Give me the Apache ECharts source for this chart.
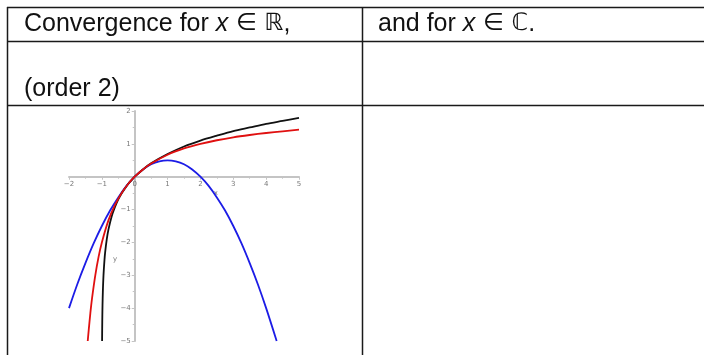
<!DOCTYPE html>
<html>
<head>
<meta charset="utf-8">
<script src="https://cdn.jsdelivr.net/npm/echarts@6/dist/echarts.min.js"></script>
<style>
  html, body { margin: 0; padding: 0; background: #fff; }
  #chart { width: 704px; height: 355px; }
</style>
</head>
<body>
<div id="chart"></div>
<script>
// ln(1 + x) — exact curve
const lnX = [-0.993, -0.99, -0.985, -0.98, -0.97, -0.95, -0.92, -0.9, -0.85, -0.8, -0.7, -0.6, -0.5, -0.4, -0.3, -0.2, -0.1, 0, 0.25, 0.5, 1, 1.5, 2, 2.5, 3, 3.5, 4, 4.5, 5];
const lnY = [-5.0, -4.61, -4.2, -3.91, -3.51, -3.0, -2.53, -2.3, -1.9, -1.61, -1.2, -0.92, -0.69, -0.51, -0.36, -0.22, -0.11, 0, 0.22, 0.41, 0.69, 0.92, 1.1, 1.25, 1.39, 1.5, 1.61, 1.7, 1.79];

// rational approximant (order 2)
const padeX = [-1.43, -1.4, -1.35, -1.3, -1.2, -1.1, -1.0, -0.8, -0.6, -0.4, -0.2, 0, 0.25, 0.5, 1, 1.5, 2, 2.5, 3, 3.5, 4, 4.5, 5];
const padeY = [-5.0, -4.67, -4.15, -3.71, -3.0, -2.44, -2.0, -1.33, -0.86, -0.5, -0.22, 0, 0.22, 0.4, 0.67, 0.86, 1.0, 1.11, 1.2, 1.27, 1.33, 1.38, 1.43];

// Taylor polynomial (order 2)
const taylorX = [-2, -1.75, -1.5, -1.25, -1, -0.75, -0.5, -0.25, 0, 0.25, 0.5, 0.75, 1, 1.25, 1.5, 1.75, 2, 2.25, 2.5, 2.75, 3, 3.25, 3.5, 3.75, 4, 4.32];
const taylorY = [-4.0, -3.28, -2.63, -2.03, -1.5, -1.03, -0.63, -0.28, 0, 0.22, 0.38, 0.47, 0.5, 0.47, 0.38, 0.22, 0, -0.28, -0.63, -1.03, -1.5, -2.03, -2.63, -3.28, -4.0, -5.0];

// axis ranges and tick labels
const xTicks = [-2, -1, 0, 1, 2, 3, 4, 5];
const yTicks = [-5, -4, -3, -2, -1, 0, 1, 2];

const pairs = (xs, ys) => xs.map((x, i) => [x, ys[i]]);
const minus = v => (v < 0 ? '\u2212' + Math.abs(v) : String(v));

const chart = echarts.init(document.getElementById('chart'), null, { renderer: 'canvas' });

const ink = '#1a1a1a';
const cellFont = 'Liberation Sans, Arial, sans-serif';

const tableLines = [
  // horizontal rules
  { x1: 7, y1: 7.5, x2: 704, y2: 7.5 },
  { x1: 7, y1: 41.5, x2: 704, y2: 41.5 },
  { x1: 7, y1: 105.5, x2: 704, y2: 105.5 },
  // vertical rules
  { x1: 7.5, y1: 7, x2: 7.5, y2: 355 },
  { x1: 362.5, y1: 7, x2: 362.5, y2: 355 }
].map(s => ({ type: 'line', silent: true, z: 10, shape: s, style: { stroke: ink, lineWidth: 1.5 } }));

const richCell = {
  n: { fontFamily: cellFont, fontSize: 25, fill: '#111' },
  i: { fontFamily: cellFont, fontSize: 25, fontStyle: 'italic', fill: '#111' },
  s: { fontFamily: 'DejaVu Sans, sans-serif', fontSize: 24, fill: '#111' }
};

const cellTexts = [
  { x: 24, y: 24, text: '{n|Convergence for }{i|x}{s| \u2208 \u211D}{n|,}' },
  { x: 378, y: 24, text: '{n|and for }{i|x}{s| \u2208 \u2102}{n|.}' },
  { x: 24, y: 89, text: '{n|(order 2)}' }
].map(t => ({
  type: 'text', silent: true, z: 10, x: t.x, y: t.y,
  style: { text: t.text, rich: richCell, verticalAlign: 'middle', align: 'left' }
}));

const axisGray = '#c4c4c4';
const labelStyle = { fontSize: 7, color: '#777', margin: 4, fontFamily: 'DejaVu Sans' };

const option = {
  backgroundColor: '#fff',
  animation: false,
  grid: { left: 69, top: 111, width: 230, height: 230, containLabel: false },
  xAxis: {
    type: 'value', min: xTicks[0], max: xTicks[xTicks.length - 1], interval: 1,
    axisLine: { onZero: false, lineStyle: { color: axisGray, width: 2 } },
    axisTick: { show: true, length: 3, lineStyle: { color: axisGray } },
    minorTick: { show: true, splitNumber: 2, length: 2, lineStyle: { color: axisGray } },
    axisLabel: Object.assign({ formatter: minus }, labelStyle),
    splitLine: { show: false }
  },
  yAxis: {
    type: 'value', min: yTicks[0], max: yTicks[yTicks.length - 1], interval: 1,
    axisLine: { onZero: false, lineStyle: { color: axisGray, width: 2 } },
    axisTick: { show: true, length: 3, lineStyle: { color: axisGray } },
    minorTick: { show: true, splitNumber: 2, length: 2, lineStyle: { color: axisGray } },
    axisLabel: Object.assign({ formatter: v => (v === 0 ? '' : minus(v)) }, labelStyle),
    splitLine: { show: false }
  },
  series: [
    { name: 'ln(1+x)', type: 'line', data: pairs(lnX, lnY), showSymbol: false, smooth: 0.3,
      lineStyle: { color: '#111', width: 1.8 }, z: 3 },
    { name: 'Padé', type: 'line', data: pairs(padeX, padeY), showSymbol: false, smooth: 0.3,
      lineStyle: { color: '#e01010', width: 1.8 }, z: 4 },
    { name: 'Taylor', type: 'line', data: pairs(taylorX, taylorY), showSymbol: false, smooth: 0.3,
      lineStyle: { color: '#1c1ce6', width: 1.8 }, z: 2 }
  ],
  graphic: tableLines.concat(cellTexts)
};

chart.setOption(option);

// move both axes onto the origin (labels and ticks included) using the grid's own scale
const origin = chart.convertToPixel({ gridIndex: 0 }, [0, 0]);
const corner = chart.convertToPixel({ gridIndex: 0 }, [xTicks[0], yTicks[0]]);
const xName = chart.convertToPixel({ gridIndex: 0 }, [2.47, -0.5]);
const yName = chart.convertToPixel({ gridIndex: 0 }, [-0.6, -2.5]);
chart.setOption({
  xAxis: { offset: -(corner[1] - origin[1]) },
  yAxis: { offset: -(origin[0] - corner[0]) },
  graphic: tableLines.concat(cellTexts).concat([
    { type: 'text', silent: true, x: xName[0], y: xName[1],
      style: { text: 'x', fontSize: 7, fill: '#777', align: 'center', verticalAlign: 'middle', fontFamily: 'DejaVu Sans' } },
    { type: 'text', silent: true, x: yName[0], y: yName[1],
      style: { text: 'y', fontSize: 7, fill: '#777', align: 'center', verticalAlign: 'middle', fontFamily: 'DejaVu Sans' } }
  ])
});
</script>
</body>
</html>
